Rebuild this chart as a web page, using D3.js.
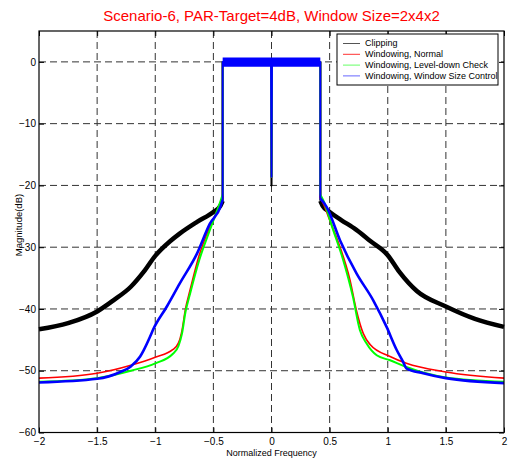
<!DOCTYPE html>
<html>
<head>
  <meta charset="utf-8">
  <title>Scenario-6 spectrum</title>
  <script src="https://d3js.org/d3.v7.min.js"></script>
  <style>
    body { margin: 0; background: #fff; }
    text { font-family: "Liberation Sans", Arial, sans-serif; }
    .grid line { stroke: #333; stroke-dasharray: 7,4; stroke-width: 1; }
    .axis path { display: none; }
    .axis line { stroke: #000; }
    .axis text { font-size: 10px; fill: #000; font-family: "Liberation Sans", Arial, sans-serif; }
    .trace { fill: none; stroke-linejoin: round; }
  </style>
</head>
<body>
  <svg width="509" height="459"></svg>
  <script>
    // tick labels
    const xTicks = [-2, -1.5, -1, -0.5, 0, 0.5, 1, 1.5, 2];
    const yTicks = [0, -10, -20, -30, -40, -50, -60];

    // traces: [normalized frequency, dB]
    const clipping = [
      [-2, -43.3], [-1.75, -42.3], [-1.5, -40.4], [-1.36, -38.6], [-1.21, -36.4],
      [-1.1, -34.0], [-1.0, -31.4], [-0.87, -29.0], [-0.79, -27.8],
      [-0.64, -25.9], [-0.5, -24.3], [-0.44, -23.3], [-0.42, -22.5],
      [-0.42, 0], [-0.004, 0], [0, -20], [0.004, 0], [0.42, 0],
      [0.42, -22.5], [0.44, -23.3], [0.5, -24.3], [0.6, -25.6], [0.73, -27.2],
      [0.85, -29], [1.0, -31.3], [1.1, -34], [1.25, -37.1], [1.5, -39.6],
      [1.75, -41.6], [2, -42.9]
    ];
    const windowNormal = [
      [-2, -51.2], [-1.5, -50.4], [-1.21, -49.1], [-1.0, -47.8], [-0.85, -46.6],
      [-0.8, -45.5], [-0.77, -43.5], [-0.74, -40], [-0.7, -36.9], [-0.62, -31.2],
      [-0.53, -26.7], [-0.44, -23], [-0.42, -22],
      [-0.42, 0], [-0.004, 0], [0, -18.6], [0.004, 0], [0.42, 0],
      [0.42, -22], [0.445, -22.9], [0.5, -25.6], [0.59, -30], [0.675, -35.3],
      [0.73, -40.2], [0.79, -44], [0.85, -45.8], [1.02, -47.7], [1.16, -48.8],
      [1.5, -50.2], [2, -51.2]
    ];
    const levelDown = [
      [-2, -51.8], [-1.5, -51.2], [-1.21, -50], [-1.0, -48.8], [-0.85, -47.3],
      [-0.8, -46], [-0.77, -44], [-0.74, -40.5], [-0.7, -37.5], [-0.62, -32],
      [-0.53, -27.2], [-0.44, -22.6], [-0.42, -21.5],
      [-0.42, 0], [-0.004, 0], [0, -18.6], [0.004, 0], [0.42, 0],
      [0.42, -21.5], [0.445, -22.4], [0.53, -27.2], [0.617, -32.1], [0.7, -38],
      [0.76, -43.4], [0.818, -45.6], [0.905, -47.5], [1.02, -48.3], [1.16, -49.4],
      [1.5, -51.1], [2, -51.8]
    ];
    const sizeControl = [
      [-2, -51.9], [-1.5, -51.3], [-1.3, -50.2], [-1.21, -49.3], [-1.13, -47.7],
      [-1.1, -46.7], [-1.045, -44.5], [-1.02, -43.4], [-0.9, -39.6], [-0.79, -35.9],
      [-0.64, -31], [-0.53, -26.2], [-0.44, -23.5], [-0.42, -22.3],
      [-0.42, 0], [-0.004, 0], [0, -18.6], [0.004, 0], [0.42, 0],
      [0.42, -22.1], [0.475, -23.5], [0.59, -28.9], [0.73, -34.2], [0.875, -38.6],
      [0.99, -42.9], [1.076, -46.6], [1.13, -48.5], [1.16, -49.6], [1.305, -50.4],
      [1.5, -51.2], [2, -52]
    ];
    // noise envelope of the in-band ripple: [freq, low dB, high dB]
    const passbandBand = [[-0.42, -0.8, 0.7], [0.42, -0.8, 0.7]];

    const seriesNames = ["Clipping", "Windowing, Normal", "Windowing, Level-down Check", "Windowing, Window Size Control"];
    const seriesData = [clipping, windowNormal, levelDown, sizeControl];
    const seriesColors = ["#000000", "#ff0000", "#00ff00", "#0000ff"];
    const legendColors = ["#555555", "#ff3333", "#66ff66", "#6666ff"];
    const seriesWidths = [4.5, 1.6, 2, 2.6];

    const svg = d3.select("svg");
    const plotL = 39, plotR = 504, plotT = 31, plotB = 432.5;

    const x = d3.scaleLinear().domain([-2, 2]).range([plotL, plotR]);
    const y = d3.scaleLinear().domain([-60, 5]).range([plotB, plotT]);

    // grid
    const grid = svg.append("g").attr("class", "grid");
    grid.selectAll(".gx")
      .data(xTicks.slice(1, -1))
      .enter().append("line")
      .attr("x1", d => x(d)).attr("x2", d => x(d))
      .attr("y1", plotT).attr("y2", plotB);
    grid.selectAll(".gy")
      .data(yTicks.slice(0, -1))
      .enter().append("line")
      .attr("x1", plotL).attr("x2", plotR)
      .attr("y1", d => y(d)).attr("y2", d => y(d));

    // traces: smooth noisy skirts, thin straight in-band part
    const smooth = d3.line().curve(d3.curveMonotoneX).x(d => x(d[0])).y(d => y(d[1]));
    const straight = d3.line().x(d => x(d[0])).y(d => y(d[1]));
    function split(d) {
      const lo = d.filter(p => p[0] <= -0.42 && p[1] < -5);
      const hi = d.filter(p => p[0] >= 0.42 && p[1] < -5);
      const mid = d.slice(lo.length - 1, d.length - hi.length + 1);
      return { lo, mid, hi };
    }
    const traces = svg.append("g").selectAll("g")
      .data(seriesData)
      .enter().append("g")
      .attr("stroke", (d, i) => seriesColors[i]);
    traces.append("path")
      .attr("class", "trace")
      .attr("d", d => straight(split(d).mid))
      .attr("stroke-width", 2);
    traces.append("path")
      .attr("class", "trace")
      .attr("d", d => smooth(split(d).lo) + smooth(split(d).hi))
      .attr("stroke-width", (d, i) => seriesWidths[i]);

    const band = d3.area().x(d => x(d[0])).y0(d => y(d[1])).y1(d => y(d[2]));
    svg.append("path")
      .datum(passbandBand)
      .attr("d", band)
      .attr("fill", "#0000ff");

    // axes, matlab style: ticks inside on all four sides
    svg.append("g").attr("class", "axis")
      .attr("transform", `translate(0,${plotB})`)
      .call(d3.axisBottom(x).tickValues(xTicks).tickSize(-5).tickPadding(5).tickFormat(d3.format("")));
    svg.append("g").attr("class", "axis")
      .attr("transform", `translate(0,${plotT})`)
      .call(d3.axisTop(x).tickValues(xTicks).tickSize(-5).tickFormat(""));
    svg.append("g").attr("class", "axis")
      .attr("transform", `translate(${plotL},0)`)
      .call(d3.axisLeft(y).tickValues(yTicks).tickSize(-5).tickPadding(3));
    svg.append("g").attr("class", "axis")
      .attr("transform", `translate(${plotR},0)`)
      .call(d3.axisRight(y).tickValues(yTicks).tickSize(-5).tickFormat(""));

    svg.append("rect")
      .attr("x", plotL).attr("y", plotT)
      .attr("width", plotR - plotL).attr("height", plotB - plotT)
      .attr("fill", "none").attr("stroke", "#000").attr("stroke-width", 1.2);

    // title and labels
    svg.append("text")
      .attr("x", (plotL + plotR) / 2).attr("y", 21)
      .attr("text-anchor", "middle")
      .attr("fill", "#ff0000")
      .style("font-size", "15px")
      .text("Scenario-6, PAR-Target=4dB, Window Size=2x4x2");

    svg.append("text")
      .attr("x", (plotL + plotR) / 2).attr("y", 456)
      .attr("text-anchor", "middle")
      .style("font-size", "9px")
      .text("Normalized Frequency");

    svg.append("text")
      .attr("transform", "translate(22,225) rotate(-90)")
      .attr("text-anchor", "middle")
      .style("font-size", "9.5px")
      .text("Magnitude(dB)");

    // legend
    const lg = svg.append("g").attr("transform", "translate(337,34)");
    lg.append("rect")
      .attr("width", 161).attr("height", 51)
      .attr("fill", "#fff").attr("stroke", "#000").attr("stroke-width", 1);
    const item = lg.selectAll(".item")
      .data(seriesNames)
      .enter().append("g")
      .attr("transform", (d, i) => `translate(0,${9.5 + i * 10.8})`);
    item.append("line")
      .attr("x1", 6).attr("x2", 23)
      .attr("stroke", (d, i) => legendColors[i])
      .attr("stroke-width", 1);
    item.append("text")
      .attr("x", 28).attr("dy", "0.33em")
      .style("font-size", "9px")
      .text(d => d);
  </script>
</body>
</html>
